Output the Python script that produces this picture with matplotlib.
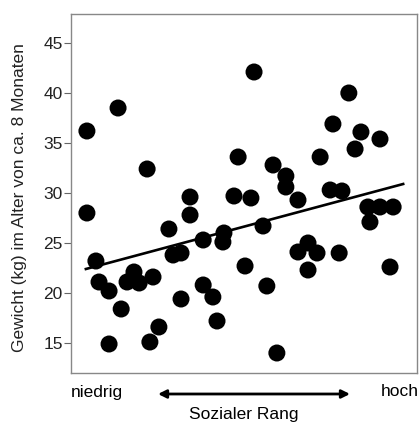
import numpy as np
import matplotlib
matplotlib.use("Agg")
import matplotlib.pyplot as plt

plt.rcParams['font.family'] = ['Liberation Sans', 'DejaVu Sans']

# social rank (0 = niedrig, 100 = hoch) and weight in kg at ~8 months
rank = [4.6, 4.6, 7.2, 8.1, 11.0, 11.0, 13.6, 14.5, 16.2, 18.2,
        19.7, 22.0, 22.8, 23.7, 25.4, 28.3, 29.5, 31.8, 31.8, 34.4,
        34.4, 38.2, 38.2, 41.0, 42.2, 43.9, 44.2, 47.1, 48.3, 50.3,
        52.0, 52.9, 55.5, 56.6, 58.4, 59.5, 62.1, 62.1, 65.6, 65.6,
        68.5, 71.1, 68.5, 72.0, 74.9, 78.3, 77.5, 75.7, 80.3, 82.1,
        83.8, 85.8, 86.4, 89.3, 89.3, 93.1, 92.2]
weight = [36.2, 28.0, 23.2, 21.1, 20.2, 14.9, 38.5, 18.4, 21.1, 22.1,
          21.0, 32.4, 15.1, 21.6, 16.6, 26.4, 23.8, 24.0, 19.4, 29.6,
          27.8, 25.3, 20.8, 19.6, 17.2, 25.1, 26.0, 29.7, 33.6, 22.7,
          29.5, 42.1, 26.7, 20.7, 32.8, 14.0, 31.7, 30.6, 29.3, 24.1,
          25.0, 24.0, 22.3, 33.6, 30.3, 30.2, 24.0, 36.9, 40.0, 34.4,
          36.1, 28.6, 27.1, 28.6, 35.4, 28.6, 22.6]

# regression line
fit_x = [4.3, 96.0]
fit_y = [22.4, 30.9]

yticks = [15, 20, 25, 30, 35, 40, 45]

W, H = 419, 425
fig = plt.figure(figsize=(W / 100, H / 100), dpi=100)
ax = fig.add_axes([71 / W, 1 - 373 / H, (417 - 71) / W, (373 - 14) / H])

ax.scatter(rank, weight, s=150, color='black', edgecolors='none', zorder=3)
ax.plot(fit_x, fit_y, color='black', lw=1.9, zorder=4)

ax.set_xlim(0, 100)
ax.set_ylim(12.0, 47.9)
ax.set_xticks([])
ax.set_yticks(yticks)
ax.tick_params(axis='y', direction='out', length=5, width=0.8, pad=1,
               labelsize=12.5, color='#666666', labelcolor='#222222')
for sp in ax.spines.values():
    sp.set_color('#888888')
    sp.set_linewidth(1.0)

ax.set_ylabel("Gewicht (kg) im Alter von ca. 8 Monaten", fontsize=12.5,
              color='#222222')
ax.yaxis.set_label_coords(-44 / 346, 0.49)

fig.text(97 / W, 1 - 392 / H, "niedrig", fontsize=12.5, ha='center', va='center')
fig.text(400 / W, 1 - 392 / H, "hoch", fontsize=12.5, ha='center', va='center')
fig.text(244 / W, 1 - 415 / H, "Sozialer Rang", fontsize=12.5, ha='center', va='center')

ax.annotate("", xy=(158 / W, 1 - 394 / H), xytext=(350 / W, 1 - 394 / H),
            xycoords='figure fraction', textcoords='figure fraction',
            arrowprops=dict(arrowstyle='<|-|>', color='black', lw=2.0,
                            mutation_scale=12, shrinkA=0, shrinkB=0))

fig.savefig("out.png", dpi=100)
